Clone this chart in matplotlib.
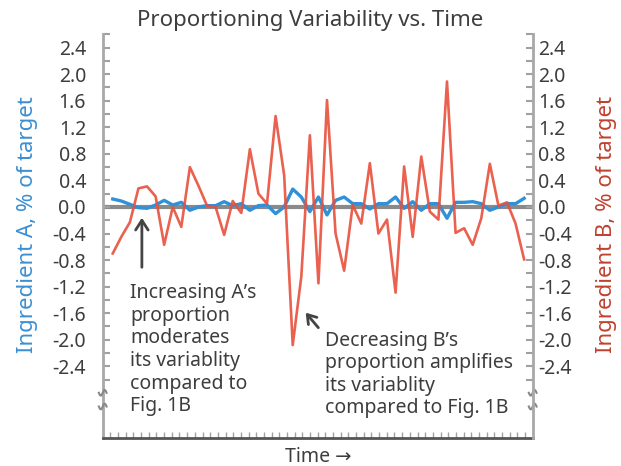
import numpy as np
import matplotlib.pyplot as plt

plt.rcParams['font.family'] = ['Noto Sans', 'DejaVu Sans']

# readings, one per time step
ingredient_a = [0.12, 0.09, 0.04, -0.01, -0.02, 0.03, 0.10, 0.03, 0.07, -0.05,
                0.00, 0.02, 0.02, 0.08, 0.02, 0.05, -0.05, 0.02, 0.03, -0.10,
                0.00, 0.27, 0.15, -0.07, 0.15, -0.12, 0.10, 0.15, 0.05, 0.05,
                -0.03, 0.05, 0.05, 0.15, -0.02, 0.08, -0.05, 0.05, 0.05, -0.17,
                0.07, 0.07, 0.08, 0.05, -0.05, 0.00, 0.05, 0.05, 0.13]
ingredient_b = [-0.70, -0.45, -0.23, 0.28, 0.31, 0.16, -0.57, 0.00, -0.30, 0.60,
                0.32, 0.02, 0.00, -0.42, 0.09, -0.09, 0.87, 0.20, 0.05, 1.37,
                0.48, -2.08, -1.05, 1.08, -1.15, 1.61, -0.40, -0.96, 0.03, -0.25,
                0.66, -0.40, -0.19, -1.29, 0.61, -0.45, 0.76, -0.07, -0.19, 1.89,
                -0.39, -0.32, -0.57, -0.17, 0.65, 0.02, 0.07, -0.25, -0.79]
t = np.arange(len(ingredient_a))

major_ticks = np.round(np.arange(-2.4, 2.41, 0.4), 1)
tick_labels = ["0.0" if abs(v) < 1e-9 else f"{v:.1f}" for v in major_ticks]

blue = '#3090d8'
red = '#e8503c'
grey_txt = '#3d3d3d'

fig = plt.figure(figsize=(6.21, 4.66), dpi=100)
ax = fig.add_axes([0.1654, 0.060, 0.6924, 0.867])
ax2 = ax.twinx()

ax.axhline(0, color='#8a8a8a', lw=3, zorder=1)
ax.plot(t, ingredient_a, color=blue, lw=2.4, zorder=2)
ax.plot(t, ingredient_b, color=red, lw=1.9, alpha=0.9, zorder=3)

ylim = (-3.48, 2.605)
ax.set_xlim(-1.17, 49.0)
ax.set_ylim(ylim)
ax2.set_ylim(ylim)

for a in (ax, ax2):
    a.set_yticks(major_ticks)
    a.set_yticks(np.arange(-2.6, 2.61, 0.2), minor=True)
    a.set_yticklabels(tick_labels)
    for s in a.spines.values():
        s.set_visible(False)
ax.spines['left'].set_visible(True)
ax.spines['left'].set_color('#a8a8a8')
ax.spines['left'].set_linewidth(2)
ax2.spines['right'].set_visible(True)
ax2.spines['right'].set_color('#a8a8a8')
ax2.spines['right'].set_linewidth(2)
ax.spines['bottom'].set_visible(True)
ax.spines['bottom'].set_color('#555555')
ax.spines['bottom'].set_linewidth(2)

ax.tick_params(axis='y', which='both', direction='in', length=5, width=1.5,
               color='#a0a0a0', labelsize=14, labelcolor=grey_txt, pad=12)
ax2.tick_params(axis='y', which='both', direction='in', length=5, width=1.5,
                color='#a0a0a0', labelsize=14, labelcolor=grey_txt, pad=4)

# dense little time ticks along the bottom
ax.set_xticks(np.linspace(-1.17, 49.0, 57)[1:-1])
ax.set_xticklabels([])
ax.tick_params(axis='x', direction='in', length=4, width=1, color='#a0a0a0')

# axis break marks on both spines
for xa in (0.0, 1.0):
    for ya in (0.112, 0.078):
        xs = np.linspace(-0.009, 0.009, 20)
        ys = ya + 0.007 * np.sin(xs / 0.009 * np.pi)
        ax.plot(xa + xs, ys, color='#888888', lw=1.5, transform=ax.transAxes,
                clip_on=False, zorder=5)

fig.text(0.5, 0.957, "Proportioning Variability vs. Time", ha='center',
         va='center', fontsize=16, color=grey_txt)
fig.text(0.045, 0.519, "Ingredient A, % of target", rotation=90, ha='center',
         va='center', fontsize=16, color='#3b8fd2')
fig.text(0.977, 0.519, "Ingredient B, % of target", rotation=90, ha='center',
         va='center', fontsize=16, color='#c0412f')
fig.text(0.512, 0.019, "Time →", ha='center', va='center', fontsize=14,
         color=grey_txt)

ax.text(2.0, -1.15, "Increasing A’s\nproportion\nmoderates\nits variablity\ncompared to\nFig. 1B",
        ha='left', va='top', fontsize=14, color=grey_txt, linespacing=1.17)
ax.annotate("", xy=(3.4, -0.12), xytext=(3.4, -0.95),
            arrowprops=dict(arrowstyle='->,head_length=0.7,head_width=0.45',
                            color='#444444', lw=2))

ax.text(24.8, -1.87, "Decreasing B’s\nproportion amplifies\nits variablity\ncompared to Fig. 1B",
        ha='left', va='top', fontsize=14, color=grey_txt, linespacing=1.15)
ax.annotate("", xy=(22.3, -1.56), xytext=(24.2, -1.85),
            arrowprops=dict(arrowstyle='->,head_length=0.6,head_width=0.4',
                            color='#444444', lw=2))

fig.savefig('out.png', dpi=100)
